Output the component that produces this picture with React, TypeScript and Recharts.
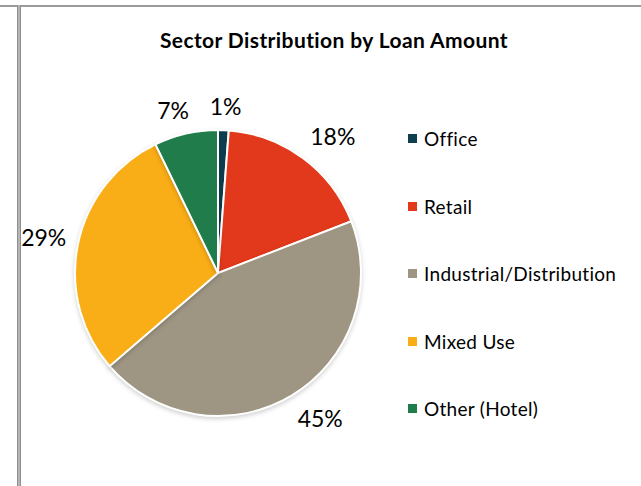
import { PieChart, Pie, Cell, Legend } from 'recharts'

const sectors = ['Office', 'Retail', 'Industrial/Distribution', 'Mixed Use', 'Other (Hotel)']
const loanShare = [1.2, 17.9, 44.6, 29.1, 7.2]
const sectorColors = ['#0E3F4E', '#E2381B', '#9E9683', '#F9AD16', '#207C4A']

const data = sectors.map((name, i) => ({ name, value: loanShare[i] }))

const FONT = 'Lato, "Open Sans", sans-serif'
const RADIAN = Math.PI / 180

const clamp = (v: number) => Math.max(-1, Math.min(1, v))

// outside-end label, pushed out so the box corner sits just off the rim
const renderLabel = (props: any) => {
  const { cx, cy, midAngle, outerRadius, percent } = props
  const text = `${Math.round(percent * 100)}%`
  const w = text.length * 15
  const h = 24
  const ux = Math.cos(-midAngle * RADIAN)
  const uy = Math.sin(-midAngle * RADIAN)
  const r = outerRadius + 12
  const x = cx + r * ux + (w / 2) * clamp(ux * 3)
  const y = cy + r * uy + (h / 2) * clamp(uy * 2)
  return (
    <text
      x={x}
      y={y}
      textAnchor="middle"
      dominantBaseline="central"
      fill="#000"
      fontSize={23}
      fontFamily={FONT}
    >
      {text}
    </text>
  )
}

const LegendList = () => (
  <div style={{ fontFamily: FONT, fontSize: 19, letterSpacing: 0.3, color: '#000' }}>
    {sectors.map((name, i) => (
      <div key={name} style={{ display: 'flex', alignItems: 'center', height: 67.5 }}>
        <span
          style={{
            display: 'inline-block',
            width: 9,
            height: 9,
            background: sectorColors[i],
            marginRight: 7,
          }}
        />
        <span>{name}</span>
      </div>
    ))}
  </div>
)

export default function App() {
  return (
    <div style={{ position: 'absolute', left: 0, top: 0, width: 641, height: 486, background: '#fff', overflow: 'hidden' }}>
      <style>{'.recharts-pie-sector path { filter: drop-shadow(0 2px 2px rgba(0,0,0,0.18)); }'}</style>
      <div style={{ position: 'absolute', left: 0, top: 5, width: 641, height: 2, background: '#9a9a9a' }} />
      <div style={{ position: 'absolute', left: 17, top: 5, width: 4, height: 481, background: '#b5b5b5', borderLeft: '1px solid #8f8f8f', borderRight: '1px solid #8f8f8f', boxSizing: 'border-box' }} />
      <div
        style={{
          position: 'absolute',
          left: 0,
          top: 27,
          width: 668,
          textAlign: 'center',
          fontFamily: FONT,
          fontWeight: 700,
          fontSize: 21,
          letterSpacing: 0.4,
          color: '#000',
        }}
      >
        Sector Distribution by Loan Amount
      </div>
      <div style={{ position: 'absolute', left: 0, top: 0 }}>
        <PieChart width={641} height={486} margin={{ top: 0, right: 0, bottom: 0, left: 0 }}>
          <Pie
            data={data}
            dataKey="value"
            nameKey="name"
            cx={218}
            cy={273}
            outerRadius={143}
            startAngle={90}
            endAngle={-270}
            stroke="#fff"
            strokeWidth={2}
            label={renderLabel}
            labelLine={false}
            isAnimationActive={false}
          >
            {data.map((d, i) => (
              <Cell key={d.name} fill={sectorColors[i]} />
            ))}
          </Pie>
          <Legend
            content={() => <LegendList />}
            wrapperStyle={{ position: 'absolute', left: 408, top: 105, width: 230 }}
          />
        </PieChart>
      </div>
    </div>
  )
}
